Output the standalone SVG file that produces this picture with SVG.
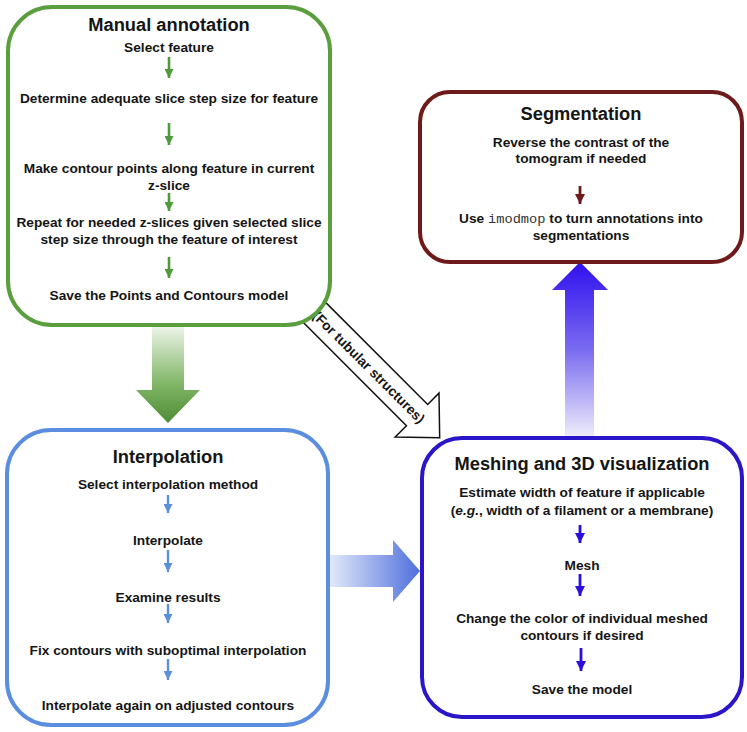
<svg xmlns="http://www.w3.org/2000/svg" width="747" height="732" viewBox="0 0 747 732">
<defs>
<style>
text{font-family:"Liberation Sans",Arial,sans-serif;font-weight:bold;fill:#151515;text-anchor:middle}
.t{font-size:18.3px}
.b{font-size:13.7px}
.mono{font-family:"Liberation Mono","DejaVu Sans Mono",monospace;font-weight:normal;fill:#333}
.box{fill:#fff;stroke-width:4}
.ag{stroke:#4e9a3a;stroke-width:2.6;marker-end:url(#mG)}
.ab{stroke:#5b8fd9;stroke-width:2.4;marker-end:url(#mB)}
.ad{stroke:#2a10d8;stroke-width:2.8;marker-end:url(#mD)}
.ar{stroke:#6e1a1a;stroke-width:2.8;marker-end:url(#mR)}
</style>
<linearGradient id="gGreen" x1="0" y1="0" x2="0" y2="1">
<stop offset="0" stop-color="#eef5ea"/>
<stop offset="0.6" stop-color="#7fb565"/>
<stop offset="1" stop-color="#4f8c36"/>
</linearGradient>
<linearGradient id="gBlueH" x1="0" y1="0" x2="1" y2="0">
<stop offset="0" stop-color="#e2eafa"/>
<stop offset="1" stop-color="#4f6fdc"/>
</linearGradient>
<linearGradient id="gBlueV" x1="0" y1="0" x2="0" y2="1">
<stop offset="0" stop-color="#3010ee"/>
<stop offset="0.5" stop-color="#7a6cf0"/>
<stop offset="1" stop-color="#f0eefc"/>
</linearGradient>
<marker id="mG" viewBox="0 0 10 10" refX="10" refY="5" markerWidth="11" markerHeight="9" markerUnits="userSpaceOnUse" orient="auto"><path d="M0,0 L10,5 L0,10 z" fill="#4e9a3a"/></marker>
<marker id="mB" viewBox="0 0 10 10" refX="10" refY="5" markerWidth="10" markerHeight="9" markerUnits="userSpaceOnUse" orient="auto"><path d="M0,0 L10,5 L0,10 z" fill="#5b8fd9"/></marker>
<marker id="mD" viewBox="0 0 10 10" refX="10" refY="5" markerWidth="11" markerHeight="10" markerUnits="userSpaceOnUse" orient="auto"><path d="M0,0 L10,5 L0,10 z" fill="#2a10d8"/></marker>
<marker id="mR" viewBox="0 0 10 10" refX="10" refY="5" markerWidth="11" markerHeight="10" markerUnits="userSpaceOnUse" orient="auto"><path d="M0,0 L10,5 L0,10 z" fill="#6e1a1a"/></marker>
</defs>
<rect width="747" height="732" fill="#fff"/>

<g id="connectors">
<path id="c-manual-interp" d="M152,326 H184 V390 H200 L168,423 L136,390 H152 Z" fill="url(#gGreen)"/>
<path id="c-interp-mesh" d="M329,555 H393 V540 L420,571 L393,602 V587 H329 Z" fill="url(#gBlueH)"/>
<path id="c-mesh-seg" d="M565,438 V290 H552 L580,262 L608,290 H594 V438 Z" fill="url(#gBlueV)"/>
<g id="c-manual-mesh" transform="translate(311,309) rotate(45)">
<path d="M0,-15 H150 V-31 L182,0 L150,31 V15 H0 Z" fill="#fff" stroke="#111" stroke-width="1.5"/>
<text class="b" x="82" y="5">(For tubular structures)</text>
</g>
</g>

<g id="manual-annotation">
<rect class="box" x="8" y="7" width="322" height="318" rx="44" stroke="#5a9e3e"/>
<text class="t" x="169" y="31">Manual annotation</text>
<text class="b" x="169" y="52">Select feature</text>
<text class="b" x="169" y="103">Determine adequate slice step size for feature</text>
<text class="b" x="169" y="173">Make contour points along feature in current</text>
<text class="b" x="169" y="190">z-slice</text>
<text class="b" x="169" y="227">Repeat for needed z-slices given selected slice</text>
<text class="b" x="169" y="244">step size through the feature of interest</text>
<text class="b" x="169" y="300">Save the Points and Contours model</text>
<line class="ag" x1="169" y1="57" x2="169" y2="78"/>
<line class="ag" x1="169" y1="123" x2="169" y2="145"/>
<line class="ag" x1="169" y1="193" x2="169" y2="211"/>
<line class="ag" x1="169" y1="257" x2="169" y2="278"/>
</g>

<g id="segmentation">
<rect class="box" x="420" y="92" width="322" height="170" rx="30" stroke="#6e1a1a"/>
<text class="t" x="581" y="120">Segmentation</text>
<text class="b" x="581" y="147">Reverse the contrast of the</text>
<text class="b" x="581" y="163">tomogram if needed</text>
<line class="ar" x1="580" y1="186" x2="580" y2="204"/>
<text class="b" x="581" y="223">Use <tspan class="mono">imodmop</tspan> to turn annotations into</text>
<text class="b" x="581" y="240">segmentations</text>
</g>

<g id="interpolation">
<rect class="box" x="7" y="430" width="321" height="295" rx="44" stroke="#5b8ee0" stroke-width="3.5"/>
<text class="t" x="168" y="463">Interpolation</text>
<text class="b" x="168" y="489">Select interpolation method</text>
<text class="b" x="168" y="545">Interpolate</text>
<text class="b" x="168" y="602">Examine results</text>
<text class="b" x="168" y="655">Fix contours with suboptimal interpolation</text>
<text class="b" x="168" y="710">Interpolate again on adjusted contours</text>
<line class="ab" x1="168" y1="495" x2="168" y2="513"/>
<line class="ab" x1="168" y1="550" x2="168" y2="572"/>
<line class="ab" x1="168" y1="604" x2="168" y2="623"/>
<line class="ab" x1="168" y1="659" x2="168" y2="680"/>
</g>

<g id="meshing">
<rect class="box" x="422" y="438" width="320" height="279" rx="40" stroke="#2a16c8"/>
<text class="t" x="582" y="470">Meshing and 3D visualization</text>
<text class="b" x="582" y="497">Estimate width of feature if applicable</text>
<text class="b" x="582" y="515">(<tspan font-style="italic">e.g.</tspan>, width of a filament or a membrane)</text>
<text class="b" x="582" y="570">Mesh</text>
<text class="b" x="582" y="623">Change the color of individual meshed</text>
<text class="b" x="582" y="640">contours if desired</text>
<text class="b" x="582" y="694">Save the model</text>
<line class="ad" x1="580" y1="525" x2="580" y2="543"/>
<line class="ad" x1="580" y1="574" x2="580" y2="596"/>
<line class="ad" x1="581" y1="648" x2="581" y2="671"/>
</g>
</svg>
